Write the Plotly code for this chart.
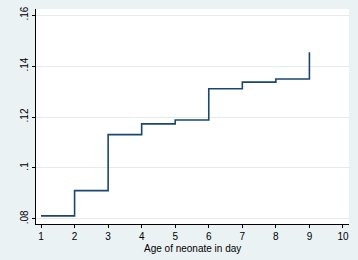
import plotly.graph_objects as go

age_days = [1, 2, 3, 4, 5, 6, 7, 8, 9]
hazard = [0.0812, 0.0911, 0.1131, 0.1173, 0.1188, 0.1311, 0.1337, 0.1349, 0.1454]
x_ticks = [1, 2, 3, 4, 5, 6, 7, 8, 9, 10]
y_ticks = [0.08, 0.10, 0.12, 0.14, 0.16]
y_labels = [".08", ".1", ".12", ".14", ".16"]
x_title = "Age of neonate in day"

fig = go.Figure()
fig.add_trace(go.Scatter(
    x=age_days, y=hazard, mode="lines", line_shape="hv",
    line=dict(color="#1a476f", width=1.6), showlegend=False,
))

fig.update_layout(
    width=358, height=260,
    margin=dict(l=36, r=9, t=9, b=36, autoexpand=False),
    paper_bgcolor="#eaf2f3", plot_bgcolor="#ffffff",
    font=dict(family="Liberation Sans, Arial, sans-serif", size=10, color="#000000"),
    xaxis=dict(
        range=[0.85, 10.18], tickvals=x_ticks, ticks="outside", ticklen=3,
        tickcolor="#000000", showline=True, linecolor="#000000", linewidth=1,
        showgrid=False, zeroline=False, automargin=False,
        tickfont=dict(size=10),
    ),
    yaxis=dict(
        range=[0.078, 0.1624], tickvals=y_ticks, ticktext=y_labels,
        tickangle=-90, ticks="outside", ticklen=3, tickcolor="#000000",
        showline=True, linecolor="#000000", linewidth=1, automargin=False,
        showgrid=True, gridcolor="#e3ebed", gridwidth=1, zeroline=False,
        tickfont=dict(size=10),
    ),
    annotations=[dict(
        text=x_title, xref="paper", yref="paper", x=0.5, y=-0.114,
        xanchor="center", yanchor="middle", showarrow=False,
        font=dict(size=10, color="#000000"),
    )],
)

fig.write_html(
    "out.html",
    config={"displayModeBar": False},
    post_script="document.body.style.margin='0';document.body.style.overflow='hidden';",
)
